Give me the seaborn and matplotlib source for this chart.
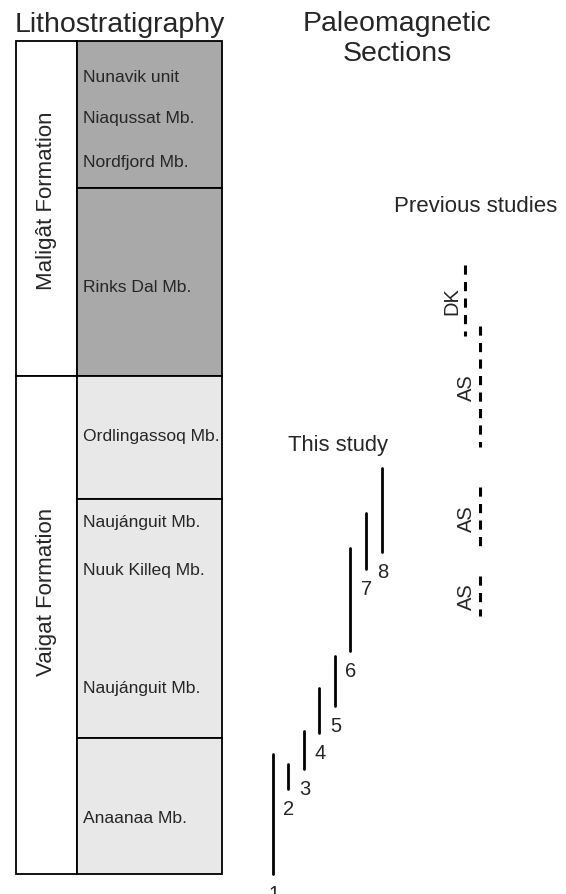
import matplotlib
matplotlib.use("Agg")
import matplotlib.pyplot as plt
import seaborn as sns
import pandas as pd

sns.set_theme(style="white")
plt.rcParams["font.family"] = ["Liberation Sans", "DejaVu Sans"]

# ---- Lithostratigraphy (stratigraphic level, increasing downwards) ----
formations = ["Maligât Formation", "Vaigat Formation"]
formation_top = [42, 377]
formation_bottom = [377, 875]
formation_label_y = [201, 592]

unit_top = [42, 189, 377, 500, 739]
unit_bottom = [189, 377, 500, 739, 875]
unit_shade = ["dark", "dark", "light", "light", "light"]

members = ["Nunavik unit", "Niaqussat Mb.", "Nordfjord Mb.", "Rinks Dal Mb.",
           "Ordlingassoq Mb.", "Naujánguit Mb.", "Nuuk Killeq Mb.",
           "Naujánguit Mb.", "Anaanaa Mb."]
member_level = [77, 118, 162, 287, 436, 522, 570, 689, 819]

# ---- Paleomagnetic sections: this study ----
section_ids = ["1", "2", "3", "4", "5", "6", "7", "8"]
section_top = [755, 765, 732, 689, 657, 549, 514, 469]
section_bottom = [875, 790, 770, 734, 707, 652, 570, 553]

# ---- Paleomagnetic sections: previous studies ----
prev_ids = ["DK", "AS", "AS", "AS"]
prev_top = [266, 327, 488, 577]
prev_bottom = [337, 448, 550, 617]

# layout (horizontal placement only)
sec_x = [273, 287.5, 303.5, 319, 334.5, 349.5, 366, 382]
prev_x = [464.5, 479.5, 479.5, 479.5]

fig = plt.figure(figsize=(5.66, 8.95), dpi=100)
ax = fig.add_axes([0, 0, 1, 1])

shade_col = {"dark": "#a9a9a9", "light": "#e8e8e8"}
# formation column
for name, t, b, ly in zip(formations, formation_top, formation_bottom, formation_label_y):
    ax.bar(16, b - t, bottom=t, width=61, align="edge", color="white",
           edgecolor="black", linewidth=1.3, zorder=2)
    ax.text(47, ly, name, rotation=90, ha="center", va="center",
            fontsize=16, zorder=3)
# member column
for t, b, s in zip(unit_top, unit_bottom, unit_shade):
    ax.bar(77, b - t, bottom=t, width=145, align="edge", color=shade_col[s],
           edgecolor="black", linewidth=1.3, zorder=2)
for m, y in zip(members, member_level):
    ax.text(83, y, m, ha="left", va="center", fontsize=12.6, zorder=3)

# sections drawn through seaborn
rows = []
for sid, x, t, b in zip(section_ids, sec_x, section_top, section_bottom):
    rows += [{"sec": sid, "x": x, "y": t}, {"sec": sid, "x": x, "y": b}]
df = pd.DataFrame(rows)
sns.lineplot(data=df, x="x", y="y", units="sec", estimator=None, sort=False,
             color="black", linewidth=2.0, ax=ax, legend=False)

rows = []
for i, (x, t, b) in enumerate(zip(prev_x, prev_top, prev_bottom)):
    rows += [{"sec": i, "x": x, "y": t}, {"sec": i, "x": x, "y": b}]
dfp = pd.DataFrame(rows)
sns.lineplot(data=dfp, x="x", y="y", units="sec", estimator=None, sort=False,
             color="black", linewidth=2.2, ax=ax, legend=False,
             dashes=False, linestyle=(0, (3.0, 2.4)))
ax.set_xlim(0, 566)
ax.set_ylim(895, 0)
ax.axis("off")

for sid, x, b in zip(section_ids, sec_x, section_bottom):
    ax.text(x + 1, b + 10, sid, ha="center", va="top", fontsize=14.5)

for lab, x, t, b in zip(prev_ids, prev_x, prev_top, prev_bottom):
    ax.text(x - 13, (t + b) / 2, lab, rotation=90, ha="center", va="center",
            fontsize=14.5)

ax.text(120, 32, "Lithostratigraphy", ha="center", va="baseline", fontsize=20.5)
ax.text(397, 31, "Paleomagnetic", ha="center", va="baseline", fontsize=20.5)
ax.text(397, 61, "Sections", ha="center", va="baseline", fontsize=20.5)
ax.text(338, 451, "This study", ha="center", va="baseline", fontsize=15.8)
ax.text(476, 212, "Previous studies", ha="center", va="baseline", fontsize=16)

fig.savefig("out.png", dpi=100)
